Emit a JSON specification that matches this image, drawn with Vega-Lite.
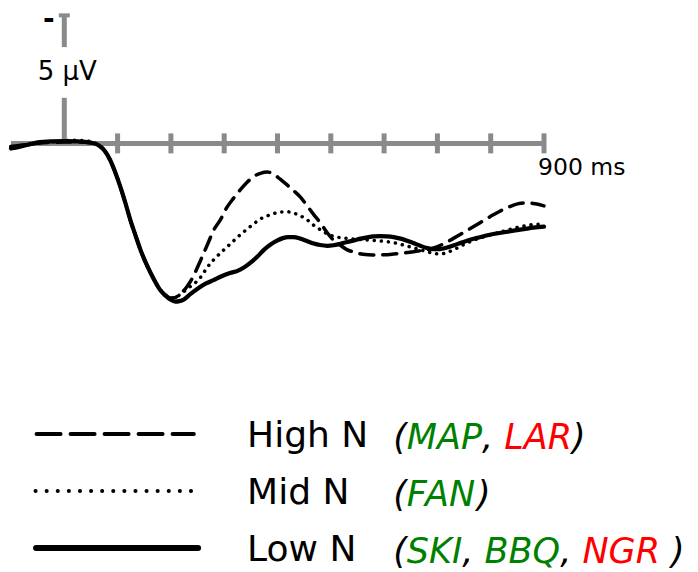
{
  "$schema": "https://vega.github.io/schema/vega-lite/v6.json",
  "width": 533,
  "height": 572,
  "autosize": "none",
  "padding": {"left": 11, "right": 154, "top": 0, "bottom": 0},
  "background": "white",
  "config": {
    "view": {"stroke": null},
    "font": "DejaVu Sans",
    "axis": {"disable": true},
    "legend": {"disable": true},
    "text": {"font": "DejaVu Sans", "color": "black"}
  },
  "datasets": {
    "erp": [
      {"level": "High N", "ms": -100, "uv": 0.12}, {"level": "High N", "ms": -70, "uv": 0.04}, {"level": "High N", "ms": -40, "uv": -0.02},
      {"level": "High N", "ms": 0, "uv": -0.05}, {"level": "High N", "ms": 30, "uv": -0.05}, {"level": "High N", "ms": 50, "uv": -0.02},
      {"level": "High N", "ms": 65, "uv": 0.07}, {"level": "High N", "ms": 76, "uv": 0.3}, {"level": "High N", "ms": 86, "uv": 0.65},
      {"level": "High N", "ms": 95, "uv": 1.1}, {"level": "High N", "ms": 105, "uv": 1.69}, {"level": "High N", "ms": 115, "uv": 2.35},
      {"level": "High N", "ms": 124, "uv": 3.0}, {"level": "High N", "ms": 134, "uv": 3.62}, {"level": "High N", "ms": 143, "uv": 4.16},
      {"level": "High N", "ms": 152, "uv": 4.62}, {"level": "High N", "ms": 162, "uv": 5.06}, {"level": "High N", "ms": 171, "uv": 5.42},
      {"level": "High N", "ms": 180, "uv": 5.73}, {"level": "High N", "ms": 190, "uv": 5.93}, {"level": "High N", "ms": 199, "uv": 6.04},
      {"level": "High N", "ms": 207, "uv": 6.03}, {"level": "High N", "ms": 216, "uv": 5.9}, {"level": "High N", "ms": 230, "uv": 5.6},
      {"level": "High N", "ms": 243, "uv": 5.15}, {"level": "High N", "ms": 255, "uv": 4.6}, {"level": "High N", "ms": 268, "uv": 3.98},
      {"level": "High N", "ms": 280, "uv": 3.4}, {"level": "High N", "ms": 293, "uv": 2.98}, {"level": "High N", "ms": 305, "uv": 2.5},
      {"level": "High N", "ms": 318, "uv": 2.13}, {"level": "High N", "ms": 330, "uv": 1.82}, {"level": "High N", "ms": 343, "uv": 1.52},
      {"level": "High N", "ms": 355, "uv": 1.3}, {"level": "High N", "ms": 368, "uv": 1.17}, {"level": "High N", "ms": 381, "uv": 1.12},
      {"level": "High N", "ms": 393, "uv": 1.2}, {"level": "High N", "ms": 405, "uv": 1.4}, {"level": "High N", "ms": 418, "uv": 1.62},
      {"level": "High N", "ms": 430, "uv": 1.84}, {"level": "High N", "ms": 443, "uv": 2.1}, {"level": "High N", "ms": 456, "uv": 2.45},
      {"level": "High N", "ms": 468, "uv": 2.78}, {"level": "High N", "ms": 481, "uv": 3.12}, {"level": "High N", "ms": 493, "uv": 3.48},
      {"level": "High N", "ms": 505, "uv": 3.78}, {"level": "High N", "ms": 518, "uv": 3.98}, {"level": "High N", "ms": 530, "uv": 4.15},
      {"level": "High N", "ms": 543, "uv": 4.24}, {"level": "High N", "ms": 560, "uv": 4.33}, {"level": "High N", "ms": 580, "uv": 4.36},
      {"level": "High N", "ms": 600, "uv": 4.35}, {"level": "High N", "ms": 618, "uv": 4.32}, {"level": "High N", "ms": 637, "uv": 4.28},
      {"level": "High N", "ms": 655, "uv": 4.23}, {"level": "High N", "ms": 675, "uv": 4.17}, {"level": "High N", "ms": 693, "uv": 4.08},
      {"level": "High N", "ms": 712, "uv": 3.92}, {"level": "High N", "ms": 730, "uv": 3.71}, {"level": "High N", "ms": 749, "uv": 3.48},
      {"level": "High N", "ms": 768, "uv": 3.25}, {"level": "High N", "ms": 787, "uv": 3.01}, {"level": "High N", "ms": 805, "uv": 2.79},
      {"level": "High N", "ms": 824, "uv": 2.58}, {"level": "High N", "ms": 843, "uv": 2.41}, {"level": "High N", "ms": 856, "uv": 2.34},
      {"level": "High N", "ms": 869, "uv": 2.32}, {"level": "High N", "ms": 884, "uv": 2.36}, {"level": "High N", "ms": 900, "uv": 2.44},

      {"level": "Mid N", "ms": -100, "uv": 0.12}, {"level": "Mid N", "ms": -70, "uv": 0.05}, {"level": "Mid N", "ms": -40, "uv": -0.03},
      {"level": "Mid N", "ms": -10, "uv": -0.08}, {"level": "Mid N", "ms": 15, "uv": -0.12}, {"level": "Mid N", "ms": 40, "uv": -0.1},
      {"level": "Mid N", "ms": 55, "uv": -0.03}, {"level": "Mid N", "ms": 65, "uv": 0.07}, {"level": "Mid N", "ms": 76, "uv": 0.3},
      {"level": "Mid N", "ms": 86, "uv": 0.65}, {"level": "Mid N", "ms": 95, "uv": 1.1}, {"level": "Mid N", "ms": 105, "uv": 1.69},
      {"level": "Mid N", "ms": 115, "uv": 2.35}, {"level": "Mid N", "ms": 124, "uv": 3.0}, {"level": "Mid N", "ms": 134, "uv": 3.62},
      {"level": "Mid N", "ms": 143, "uv": 4.16}, {"level": "Mid N", "ms": 152, "uv": 4.62}, {"level": "Mid N", "ms": 162, "uv": 5.06},
      {"level": "Mid N", "ms": 171, "uv": 5.42}, {"level": "Mid N", "ms": 180, "uv": 5.73}, {"level": "Mid N", "ms": 190, "uv": 5.93},
      {"level": "Mid N", "ms": 199, "uv": 6.04}, {"level": "Mid N", "ms": 208, "uv": 6.02}, {"level": "Mid N", "ms": 220, "uv": 5.85},
      {"level": "Mid N", "ms": 237, "uv": 5.58}, {"level": "Mid N", "ms": 255, "uv": 5.25}, {"level": "Mid N", "ms": 268, "uv": 4.85},
      {"level": "Mid N", "ms": 280, "uv": 4.55}, {"level": "Mid N", "ms": 293, "uv": 4.28}, {"level": "Mid N", "ms": 305, "uv": 4.05},
      {"level": "Mid N", "ms": 318, "uv": 3.8}, {"level": "Mid N", "ms": 330, "uv": 3.57}, {"level": "Mid N", "ms": 343, "uv": 3.35},
      {"level": "Mid N", "ms": 355, "uv": 3.15}, {"level": "Mid N", "ms": 368, "uv": 2.95}, {"level": "Mid N", "ms": 381, "uv": 2.83},
      {"level": "Mid N", "ms": 393, "uv": 2.74}, {"level": "Mid N", "ms": 405, "uv": 2.68}, {"level": "Mid N", "ms": 418, "uv": 2.67},
      {"level": "Mid N", "ms": 430, "uv": 2.72}, {"level": "Mid N", "ms": 443, "uv": 2.83}, {"level": "Mid N", "ms": 456, "uv": 2.99},
      {"level": "Mid N", "ms": 468, "uv": 3.2}, {"level": "Mid N", "ms": 481, "uv": 3.38}, {"level": "Mid N", "ms": 493, "uv": 3.53},
      {"level": "Mid N", "ms": 505, "uv": 3.63}, {"level": "Mid N", "ms": 518, "uv": 3.68}, {"level": "Mid N", "ms": 531, "uv": 3.71},
      {"level": "Mid N", "ms": 550, "uv": 3.75}, {"level": "Mid N", "ms": 568, "uv": 3.77}, {"level": "Mid N", "ms": 587, "uv": 3.8},
      {"level": "Mid N", "ms": 606, "uv": 3.84}, {"level": "Mid N", "ms": 625, "uv": 3.91}, {"level": "Mid N", "ms": 643, "uv": 4.01},
      {"level": "Mid N", "ms": 662, "uv": 4.12}, {"level": "Mid N", "ms": 681, "uv": 4.23}, {"level": "Mid N", "ms": 694, "uv": 4.3},
      {"level": "Mid N", "ms": 706, "uv": 4.32}, {"level": "Mid N", "ms": 718, "uv": 4.26}, {"level": "Mid N", "ms": 730, "uv": 4.16},
      {"level": "Mid N", "ms": 749, "uv": 3.96}, {"level": "Mid N", "ms": 768, "uv": 3.78}, {"level": "Mid N", "ms": 787, "uv": 3.65},
      {"level": "Mid N", "ms": 805, "uv": 3.54}, {"level": "Mid N", "ms": 824, "uv": 3.43}, {"level": "Mid N", "ms": 843, "uv": 3.32},
      {"level": "Mid N", "ms": 862, "uv": 3.23}, {"level": "Mid N", "ms": 880, "uv": 3.17}, {"level": "Mid N", "ms": 900, "uv": 3.15},

      {"level": "Low N", "ms": -100, "uv": 0.2}, {"level": "Low N", "ms": -85, "uv": 0.14}, {"level": "Low N", "ms": -70, "uv": 0.06},
      {"level": "Low N", "ms": -50, "uv": -0.04}, {"level": "Low N", "ms": -25, "uv": -0.08}, {"level": "Low N", "ms": 0, "uv": -0.09},
      {"level": "Low N", "ms": 25, "uv": -0.08}, {"level": "Low N", "ms": 50, "uv": -0.03}, {"level": "Low N", "ms": 65, "uv": 0.08},
      {"level": "Low N", "ms": 76, "uv": 0.3}, {"level": "Low N", "ms": 86, "uv": 0.65}, {"level": "Low N", "ms": 95, "uv": 1.1},
      {"level": "Low N", "ms": 105, "uv": 1.69}, {"level": "Low N", "ms": 115, "uv": 2.35}, {"level": "Low N", "ms": 124, "uv": 3.0},
      {"level": "Low N", "ms": 134, "uv": 3.62}, {"level": "Low N", "ms": 143, "uv": 4.16}, {"level": "Low N", "ms": 152, "uv": 4.62},
      {"level": "Low N", "ms": 162, "uv": 5.06}, {"level": "Low N", "ms": 171, "uv": 5.42}, {"level": "Low N", "ms": 180, "uv": 5.73},
      {"level": "Low N", "ms": 190, "uv": 5.95}, {"level": "Low N", "ms": 199, "uv": 6.1}, {"level": "Low N", "ms": 208, "uv": 6.18},
      {"level": "Low N", "ms": 216, "uv": 6.16}, {"level": "Low N", "ms": 224, "uv": 6.1}, {"level": "Low N", "ms": 237, "uv": 5.88},
      {"level": "Low N", "ms": 250, "uv": 5.68}, {"level": "Low N", "ms": 265, "uv": 5.48}, {"level": "Low N", "ms": 280, "uv": 5.34},
      {"level": "Low N", "ms": 293, "uv": 5.21}, {"level": "Low N", "ms": 311, "uv": 5.06}, {"level": "Low N", "ms": 325, "uv": 4.98},
      {"level": "Low N", "ms": 337, "uv": 4.85}, {"level": "Low N", "ms": 350, "uv": 4.65}, {"level": "Low N", "ms": 362, "uv": 4.43},
      {"level": "Low N", "ms": 375, "uv": 4.15}, {"level": "Low N", "ms": 387, "uv": 3.95}, {"level": "Low N", "ms": 399, "uv": 3.8},
      {"level": "Low N", "ms": 410, "uv": 3.7}, {"level": "Low N", "ms": 420, "uv": 3.66}, {"level": "Low N", "ms": 430, "uv": 3.66},
      {"level": "Low N", "ms": 443, "uv": 3.72}, {"level": "Low N", "ms": 456, "uv": 3.82}, {"level": "Low N", "ms": 468, "uv": 3.91},
      {"level": "Low N", "ms": 480, "uv": 3.97}, {"level": "Low N", "ms": 493, "uv": 4.0}, {"level": "Low N", "ms": 505, "uv": 3.98},
      {"level": "Low N", "ms": 518, "uv": 3.92}, {"level": "Low N", "ms": 531, "uv": 3.85}, {"level": "Low N", "ms": 545, "uv": 3.78},
      {"level": "Low N", "ms": 556, "uv": 3.72}, {"level": "Low N", "ms": 568, "uv": 3.67}, {"level": "Low N", "ms": 580, "uv": 3.63},
      {"level": "Low N", "ms": 593, "uv": 3.62}, {"level": "Low N", "ms": 605, "uv": 3.63}, {"level": "Low N", "ms": 618, "uv": 3.66},
      {"level": "Low N", "ms": 631, "uv": 3.72}, {"level": "Low N", "ms": 643, "uv": 3.8}, {"level": "Low N", "ms": 656, "uv": 3.9},
      {"level": "Low N", "ms": 668, "uv": 4.0}, {"level": "Low N", "ms": 681, "uv": 4.09}, {"level": "Low N", "ms": 693, "uv": 4.13},
      {"level": "Low N", "ms": 705, "uv": 4.13}, {"level": "Low N", "ms": 718, "uv": 4.07}, {"level": "Low N", "ms": 730, "uv": 3.99},
      {"level": "Low N", "ms": 743, "uv": 3.89}, {"level": "Low N", "ms": 757, "uv": 3.79}, {"level": "Low N", "ms": 775, "uv": 3.69},
      {"level": "Low N", "ms": 790, "uv": 3.61}, {"level": "Low N", "ms": 805, "uv": 3.54}, {"level": "Low N", "ms": 825, "uv": 3.47},
      {"level": "Low N", "ms": 843, "uv": 3.41}, {"level": "Low N", "ms": 862, "uv": 3.35}, {"level": "Low N", "ms": 880, "uv": 3.29},
      {"level": "Low N", "ms": 900, "uv": 3.25}
    ],
    "ticks": [
      {"ms": 100}, {"ms": 200}, {"ms": 300}, {"ms": 400}, {"ms": 500},
      {"ms": 600}, {"ms": 700}, {"ms": 800}, {"ms": 900}
    ],
    "levels": [
      {"level": "High N", "first": "MAP"},
      {"level": "Mid N", "first": "FAN"},
      {"level": "Low N", "first": "SKI"}
    ]
  },
  "layer": [
    {
      "layer": [
        {
          "data": {"values": [{}]},
          "mark": {"type": "rule", "color": "#8a8a8a", "strokeWidth": 5},
          "encoding": {
            "x": {"datum": -100, "type": "quantitative", "scale": {"domain": [-100, 900], "nice": false, "zero": false}, "axis": null},
            "x2": {"datum": 900},
            "y": {"datum": 0, "type": "quantitative", "scale": {"domain": [-5.6, 16.74], "reverse": true, "nice": false, "zero": false}, "axis": null}
          }
        },
        {
          "data": {"name": "ticks"},
          "mark": {"type": "rule", "color": "#8a8a8a", "strokeWidth": 5},
          "encoding": {
            "x": {"field": "ms", "type": "quantitative"},
            "y": {"datum": -0.39, "type": "quantitative"},
            "y2": {"datum": 0.39}
          }
        },
        {
          "data": {"values": [{}]},
          "mark": {"type": "rule", "color": "#8a8a8a", "strokeWidth": 5},
          "encoding": {
            "x": {"datum": 0, "type": "quantitative"},
            "y": {"datum": 0, "type": "quantitative"},
            "y2": {"datum": -1.78}
          }
        },
        {
          "data": {"values": [{}]},
          "mark": {"type": "rule", "color": "#8a8a8a", "strokeWidth": 5},
          "encoding": {
            "x": {"datum": 0, "type": "quantitative"},
            "y": {"datum": -3.76, "type": "quantitative"},
            "y2": {"datum": -5}
          }
        },
        {
          "data": {"values": [{}]},
          "mark": {"type": "tick", "orient": "horizontal", "color": "#8a8a8a", "size": 11, "thickness": 4, "opacity": 1},
          "encoding": {
            "x": {"datum": 0, "type": "quantitative"},
            "y": {"datum": -5, "type": "quantitative"}
          }
        },
        {
          "data": {"values": [{}]},
          "mark": {"type": "text", "text": "5 μV", "fontSize": 26, "align": "center", "baseline": "middle", "dx": 3},
          "encoding": {
            "x": {"datum": 0, "type": "quantitative"},
            "y": {"datum": -2.78, "type": "quantitative"}
          }
        },
        {
          "data": {"values": [{}]},
          "mark": {"type": "text", "text": "-", "fontWeight": "bold", "fontSize": 28, "align": "center", "baseline": "alphabetic"},
          "encoding": {
            "x": {"datum": -29, "type": "quantitative"},
            "y": {"datum": -4.49, "type": "quantitative"}
          }
        },
        {
          "data": {"values": [{}]},
          "mark": {"type": "text", "text": "900 ms", "fontSize": 23.5, "align": "left", "baseline": "top", "dx": -6, "dy": 13},
          "encoding": {
            "x": {"datum": 900, "type": "quantitative"},
            "y": {"datum": 0, "type": "quantitative"}
          }
        },
        {
          "data": {"name": "erp"},
          "transform": [{"filter": "datum.level === 'High N'"}],
          "mark": {"type": "line", "interpolate": "monotone", "color": "black", "strokeWidth": 3.5, "strokeDash": [14, 9], "strokeCap": "round"},
          "encoding": {
            "x": {"field": "ms", "type": "quantitative"},
            "y": {"field": "uv", "type": "quantitative"}
          }
        },
        {
          "data": {"name": "erp"},
          "transform": [{"filter": "datum.level === 'Mid N'"}],
          "mark": {"type": "line", "interpolate": "monotone", "color": "black", "strokeWidth": 3.5, "strokeDash": [0.1, 7], "strokeCap": "round"},
          "encoding": {
            "x": {"field": "ms", "type": "quantitative"},
            "y": {"field": "uv", "type": "quantitative"}
          }
        },
        {
          "data": {"name": "erp"},
          "transform": [{"filter": "datum.level === 'Low N'"}],
          "mark": {"type": "line", "interpolate": "monotone", "color": "black", "strokeWidth": 4.2, "strokeCap": "round"},
          "encoding": {
            "x": {"field": "ms", "type": "quantitative"},
            "y": {"field": "uv", "type": "quantitative"}
          }
        }
      ]
    },
    {
      "layer": [
        {
          "data": {"values": [{}]},
          "mark": {"type": "rule", "color": "black", "strokeWidth": 4, "strokeDash": [24, 10], "strokeCap": "round"},
          "encoding": {
            "x": {"datum": -52, "type": "quantitative"},
            "x2": {"datum": 243},
            "y": {"datum": "High N", "type": "nominal", "scale": {"type": "point", "domain": ["High N", "Mid N", "Low N"], "range": [434, 548], "padding": 0}, "axis": null}
          }
        },
        {
          "data": {"values": [{}]},
          "mark": {"type": "rule", "color": "black", "strokeWidth": 4, "strokeDash": [0.1, 11], "strokeCap": "round"},
          "encoding": {
            "x": {"datum": -54, "type": "quantitative"},
            "x2": {"datum": 240},
            "y": {"datum": "Mid N", "type": "nominal"}
          }
        },
        {
          "data": {"values": [{}]},
          "mark": {"type": "rule", "color": "black", "strokeWidth": 6, "strokeCap": "round"},
          "encoding": {
            "x": {"datum": -53, "type": "quantitative"},
            "x2": {"datum": 251},
            "y": {"datum": "Low N", "type": "nominal"}
          }
        },
        {
          "data": {"name": "levels"},
          "mark": {"type": "text", "fontSize": 36, "align": "left", "baseline": "middle", "dy": 2},
          "encoding": {
            "x": {"datum": 343, "type": "quantitative"},
            "y": {"field": "level", "type": "nominal"},
            "text": {"field": "level"}
          }
        },
        {
          "data": {"name": "levels"},
          "mark": {"type": "text", "text": "(", "fontStyle": "italic", "fontSize": 35, "align": "left", "baseline": "middle", "dy": 4},
          "encoding": {
            "x": {"datum": 617, "type": "quantitative"},
            "y": {"field": "level", "type": "nominal"}
          }
        },
        {
          "data": {"name": "levels"},
          "mark": {"type": "text", "fontStyle": "italic", "fontSize": 35, "align": "left", "baseline": "middle", "dy": 4, "color": "#008000"},
          "encoding": {
            "x": {"datum": 642.7, "type": "quantitative"},
            "y": {"field": "level", "type": "nominal"},
            "text": {"field": "first"}
          }
        },
        {
          "data": {"values": [{}]},
          "mark": {"type": "text", "text": ",", "fontStyle": "italic", "fontSize": 35, "align": "left", "baseline": "middle", "dy": 4},
          "encoding": {"x": {"datum": 783.8, "type": "quantitative"}, "y": {"datum": "High N", "type": "nominal"}}
        },
        {
          "data": {"values": [{}]},
          "mark": {"type": "text", "text": "LAR", "fontStyle": "italic", "fontSize": 35, "align": "left", "baseline": "middle", "dy": 4, "color": "#ff0000"},
          "encoding": {"x": {"datum": 825.6, "type": "quantitative"}, "y": {"datum": "High N", "type": "nominal"}}
        },
        {
          "data": {"values": [{}]},
          "mark": {"type": "text", "text": ")", "fontStyle": "italic", "fontSize": 35, "align": "left", "baseline": "middle", "dy": 4},
          "encoding": {"x": {"datum": 952.7, "type": "quantitative"}, "y": {"datum": "High N", "type": "nominal"}}
        },
        {
          "data": {"values": [{}]},
          "mark": {"type": "text", "text": ")", "fontStyle": "italic", "fontSize": 35, "align": "left", "baseline": "middle", "dy": 4},
          "encoding": {"x": {"datum": 774.4, "type": "quantitative"}, "y": {"datum": "Mid N", "type": "nominal"}}
        },
        {
          "data": {"values": [{}]},
          "mark": {"type": "text", "text": ",", "fontStyle": "italic", "fontSize": 35, "align": "left", "baseline": "middle", "dy": 4},
          "encoding": {"x": {"datum": 746.8, "type": "quantitative"}, "y": {"datum": "Low N", "type": "nominal"}}
        },
        {
          "data": {"values": [{}]},
          "mark": {"type": "text", "text": "BBQ", "fontStyle": "italic", "fontSize": 35, "align": "left", "baseline": "middle", "dy": 4, "color": "#008000"},
          "encoding": {"x": {"datum": 788.5, "type": "quantitative"}, "y": {"datum": "Low N", "type": "nominal"}}
        },
        {
          "data": {"values": [{}]},
          "mark": {"type": "text", "text": ",", "fontStyle": "italic", "fontSize": 35, "align": "left", "baseline": "middle", "dy": 4},
          "encoding": {"x": {"datum": 930.3, "type": "quantitative"}, "y": {"datum": "Low N", "type": "nominal"}}
        },
        {
          "data": {"values": [{}]},
          "mark": {"type": "text", "text": "NGR", "fontStyle": "italic", "fontSize": 35, "align": "left", "baseline": "middle", "dy": 4, "color": "#ff0000"},
          "encoding": {"x": {"datum": 972.0, "type": "quantitative"}, "y": {"datum": "Low N", "type": "nominal"}}
        },
        {
          "data": {"values": [{}]},
          "mark": {"type": "text", "text": ")", "fontStyle": "italic", "fontSize": 35, "align": "left", "baseline": "middle", "dy": 4},
          "encoding": {"x": {"datum": 1138.1, "type": "quantitative"}, "y": {"datum": "Low N", "type": "nominal"}}
        }
      ]
    }
  ],
  "resolve": {"scale": {"y": "independent"}}
}
